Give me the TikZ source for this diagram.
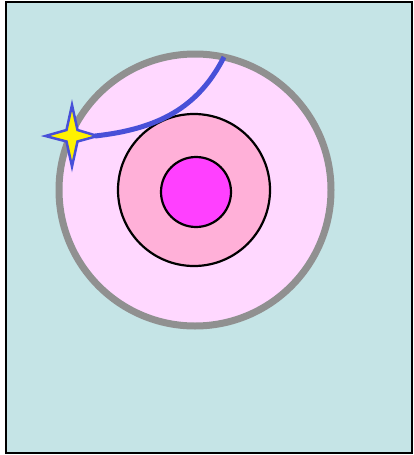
\documentclass[tikz,border=0pt]{standalone}
\definecolor{bgc}{HTML}{C5E4E6}
\definecolor{outerpink}{HTML}{FFD8FF}
\definecolor{midpink}{HTML}{FFB0D8}
\definecolor{innermag}{HTML}{FF40FF}
\definecolor{ringgray}{HTML}{909090}
\definecolor{curveblue}{HTML}{4850D8}
\begin{document}
\begin{tikzpicture}[x=1pt,y=-1pt,
  ring/.style={draw=black,line width=2.2pt}]
\useasboundingbox (0,0) rectangle (413,455);
\draw[fill=bgc,draw=black,line width=2.5pt] (6,2) rectangle (412,453);
\draw[fill=outerpink,draw=ringgray,line width=7pt] (195,190) circle (136);
\draw[ring,fill=midpink] (194,190) circle (76);
\draw[ring,fill=innermag] (196,192) circle (35);
\coordinate (s) at (72,136);
\coordinate (e) at (224,57);
\draw[curveblue,line width=5pt] (95,136) .. controls (158,129) and (198,108) .. (e);
\draw[draw=curveblue,fill=yellow,line width=2.5pt,line join=miter]
  (s) ++(0,-31) -- ++(5.5,25) -- ++(20,6) -- ++(-20,5.5) -- ++(-5.5,25) -- ++(-5.5,-25) -- ++(-21,-5.5) -- ++(21,-6) -- cycle;
\end{tikzpicture}
\end{document}
